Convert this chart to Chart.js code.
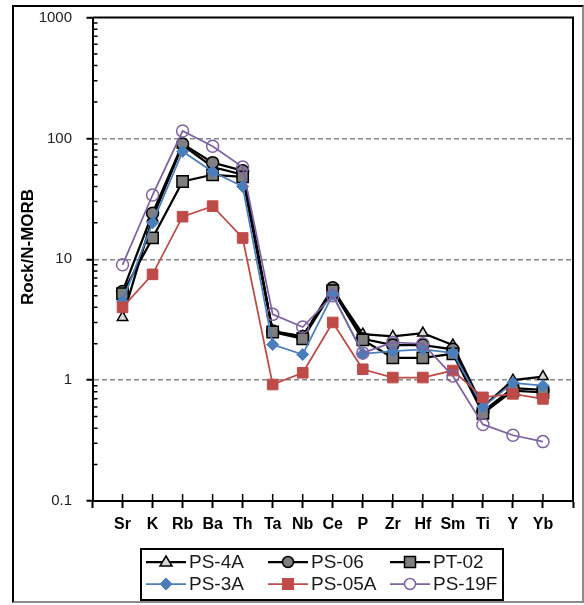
<!DOCTYPE html>
<html>
<head>
<meta charset="utf-8">
<script src="https://cdn.jsdelivr.net/npm/chart.js@4"></script>
<style>
  body { margin: 0; background: #fff; }
  #wrap { position: relative; width: 584px; height: 605px; }
  #frame { position: absolute; left: 12px; top: 5px; width: 568px; height: 594px;
           border-top: 2px solid #000; border-left: 2px solid #000;
           border-right: 2px solid #8c8c8c; border-bottom: 2px solid #8c8c8c; pointer-events: none; }
  #ytitle { position: absolute; left: 28px; top: 247px; transform: translate(-50%, -50%) rotate(-90deg);
            white-space: nowrap; font-family: "Liberation Sans", Arial, sans-serif; font-size: 17px;
            font-weight: bold; color: #000; }
  #legend { position: absolute; left: 140px; top: 548px; width: 364px; height: 53px; box-sizing: border-box;
            border: 2px solid #000; background: #fff; padding: 1px 0 0 4px;
            display: grid; grid-template-columns: 122px 122px 110px; grid-auto-rows: 22px;
            font-family: "Liberation Sans", Arial, sans-serif; font-size: 19px; color: #1a1a1a; }
  .item { display: flex; align-items: center; }
  .item svg { margin-right: 3px; }
</style>
</head>
<body>
<div id="wrap">
  <canvas id="chart" width="584" height="605"></canvas>
  <div id="frame"></div>
  <div id="ytitle">Rock/N-MORB</div>
  <div id="legend"></div>
</div>
<script>
// N-MORB normalised trace elements
const elements = ['Sr', 'K', 'Rb', 'Ba', 'Th', 'Ta', 'Nb', 'Ce', 'P', 'Zr', 'Hf', 'Sm', 'Ti', 'Y', 'Yb'];
const yTicks = [0.1, 1, 10, 100, 1000];
const yTickLabels = ['0.1', '1', '10', '100', '1000'];

const seriesNames = ['PS-4A', 'PS-06', 'PT-02', 'PS-3A', 'PS-05A', 'PS-19F'];
const ps4a  = [3.3, 22, 88, 58, 50, 2.5, 2.3, 5.6, 2.4, 2.3, 2.45, 1.95, 0.6, 1.0, 1.07];
const ps06  = [5.4, 24, 90, 63, 54, 2.55, 2.3, 5.8, 2.2, 1.95, 1.95, 1.8, 0.55, 0.86, 0.83];
const pt02  = [5.2, 15, 44, 50, 48, 2.5, 2.2, 5.5, 2.15, 1.53, 1.53, 1.65, 0.53, 0.82, 0.79];
const ps3a  = [4.5, 20, 78, 53, 40, 1.97, 1.63, 5.1, 1.65, 1.74, 1.8, 1.68, 0.6, 0.95, 0.9];
const ps05a = [4.0, 7.5, 22.5, 27.5, 15, 0.92, 1.15, 3.0, 1.23, 1.05, 1.05, 1.2, 0.72, 0.77, 0.7];
const ps19f = [9.0, 34, 115, 86, 58, 3.5, 2.75, 5.0, 1.68, 2.05, 2.0, 1.08, 0.43, 0.35, 0.31];
const seriesValues = [ps4a, ps06, pt02, ps3a, ps05a, ps19f];

// styles, kept apart from the values
const lineColors  = ['#000', '#000', '#000', '#4a7ebb', '#be4b48', '#7e63a0'];
const fillColors  = ['#d9d9d9', '#7f7f7f', '#7f7f7f', '#4a7ebb', '#be4b48', 'rgba(255,255,255,0)'];
const pointShapes = ['triangle', 'circle', 'rect', 'rectRot', 'rect', 'circle'];
const pointSizes  = [6, 6, 8, 6, 7.5, 6];
const lineWidths  = [2.25, 2.25, 2.25, 1.75, 1.75, 1.75];

const datasets = seriesNames.map((name, s) => ({
    label: name,
    data: seriesValues[s].map((v, i) => ({x: i + 1, y: v})),
    borderColor: lineColors[s],
    borderWidth: lineWidths[s],
    backgroundColor: fillColors[s],
    pointStyle: pointShapes[s],
    pointRadius: pointSizes[s],
    pointBorderColor: lineColors[s],
    pointBorderWidth: s < 3 || s == 5 ? 1.5 : 1,
    pointBackgroundColor: fillColors[s],
    tension: 0,
    order: seriesNames.length - s  // last series on top, like the spreadsheet
}));

// inner tick marks and the top/right edges of the plot box
const framePlugin = {
    id: 'frame',
    afterDraw(chart) {
        const ctx = chart.ctx, a = chart.chartArea;
        const ys = chart.scales.y, xs = chart.scales.x;
        ctx.save();
        ctx.strokeStyle = '#000';
        ctx.lineWidth = 2;
        ctx.beginPath();
        ctx.moveTo(a.left, a.top); ctx.lineTo(a.right, a.top); ctx.lineTo(a.right, a.bottom);
        ctx.stroke();
        ctx.lineWidth = 1.5;
        ctx.beginPath();
        for (let d = 0.1; d < 1000; d *= 10) {
            for (let m = 2; m <= 9; m++) {
                const py = ys.getPixelForValue(d * m);
                ctx.moveTo(a.left, py); ctx.lineTo(a.left + 5, py);
            }
        }
        for (let i = 1; i <= elements.length + 1; i++) {
            const px = xs.getPixelForValue(i);
            ctx.moveTo(px, a.bottom); ctx.lineTo(px, a.bottom - 7);
        }
        ctx.stroke();
        ctx.restore();
    }
};

function initChart() {
    const ctx = document.getElementById('chart').getContext('2d');
    new Chart(ctx, {
        type: 'line',
        data: { datasets: datasets },
        options: {
            responsive: false,
            animation: false,
            devicePixelRatio: 1,
            layout: { autoPadding: false, padding: { left: 0, top: 17.5, right: 11, bottom: 0 } },
            plugins: { legend: { display: false }, tooltip: { enabled: false } },
            scales: {
                x: {
                    type: 'linear',
                    min: 0,
                    max: elements.length + 1,
                    afterBuildTicks: (scale) => {
                        scale.ticks = [];
                        for (let i = 0; i <= elements.length + 1; i++) scale.ticks.push({value: i});
                    },
                    afterFit: (scale) => { scale.height = 104; scale.paddingLeft = 0; scale.paddingRight = 0; },
                    grid: { drawOnChartArea: false, tickLength: 7, tickWidth: 2, tickColor: '#000' },
                    border: { color: '#000', width: 2 },
                    ticks: {
                        autoSkip: false,
                        maxRotation: 0,
                        padding: 7,
                        color: '#000',
                        font: { family: 'Liberation Sans', size: 16, weight: 'bold' },
                        callback: (v) => elements[v - 1] || ''
                    }
                },
                y: {
                    type: 'logarithmic',
                    min: 0.1,
                    max: 1000,
                    afterBuildTicks: (scale) => { scale.ticks = yTicks.map(v => ({value: v, major: true})); },
                    afterFit: (scale) => { scale.width = 92.5; scale.paddingTop = 0; scale.paddingBottom = 0; },
                    grid: {
                        color: (c) => (c.tick && c.tick.value > 0.1 && c.tick.value < 1000) ? '#888' : 'rgba(0,0,0,0)',
                        lineWidth: 1.5,
                        tickLength: 6,
                        tickWidth: 2,
                        tickColor: '#000',
                        tickBorderDash: []
                    },
                    border: { color: '#000', width: 2, dash: [5, 3] },
                    ticks: {
                        padding: 14.5,
                        color: '#222',
                        font: { family: 'Liberation Sans', size: 15 },
                        callback: (v) => yTickLabels[yTicks.indexOf(v)]
                    }
                }
            }
        },
        plugins: [framePlugin]
    });
}

function markerSvg(s) {
    const c = lineColors[s], f = fillColors[s];
    let m = '';
    if (pointShapes[s] == 'triangle') m = `<polygon points="20,2 26,12 14,12" fill="${f}" stroke="${c}" stroke-width="1.5"/>`;
    else if (pointShapes[s] == 'circle') m = `<circle cx="20" cy="8" r="5.5" fill="${s == 5 ? '#fff' : f}" stroke="${c}" stroke-width="1.5"/>`;
    else if (pointShapes[s] == 'rectRot') m = `<polygon points="20,2 26,8 20,14 14,8" fill="${f}" stroke="${c}"/>`;
    else m = `<rect x="14.5" y="2.5" width="11" height="11" fill="${f}" stroke="${c}" stroke-width="${s == 2 ? 1.5 : 1}"/>`;
    return `<svg width="40" height="16"><line x1="0" y1="8" x2="40" y2="8" stroke="${c}" stroke-width="${lineWidths[s]}"/>${m}</svg>`;
}

function buildLegend() {
    const box = document.getElementById('legend');
    seriesNames.forEach((name, s) => {
        const d = document.createElement('div');
        d.className = 'item';
        d.innerHTML = markerSvg(s) + '<span>' + name + '</span>';
        box.appendChild(d);
    });
}

document.addEventListener('DOMContentLoaded', () => { initChart(); buildLegend(); });
</script>
</body>
</html>
